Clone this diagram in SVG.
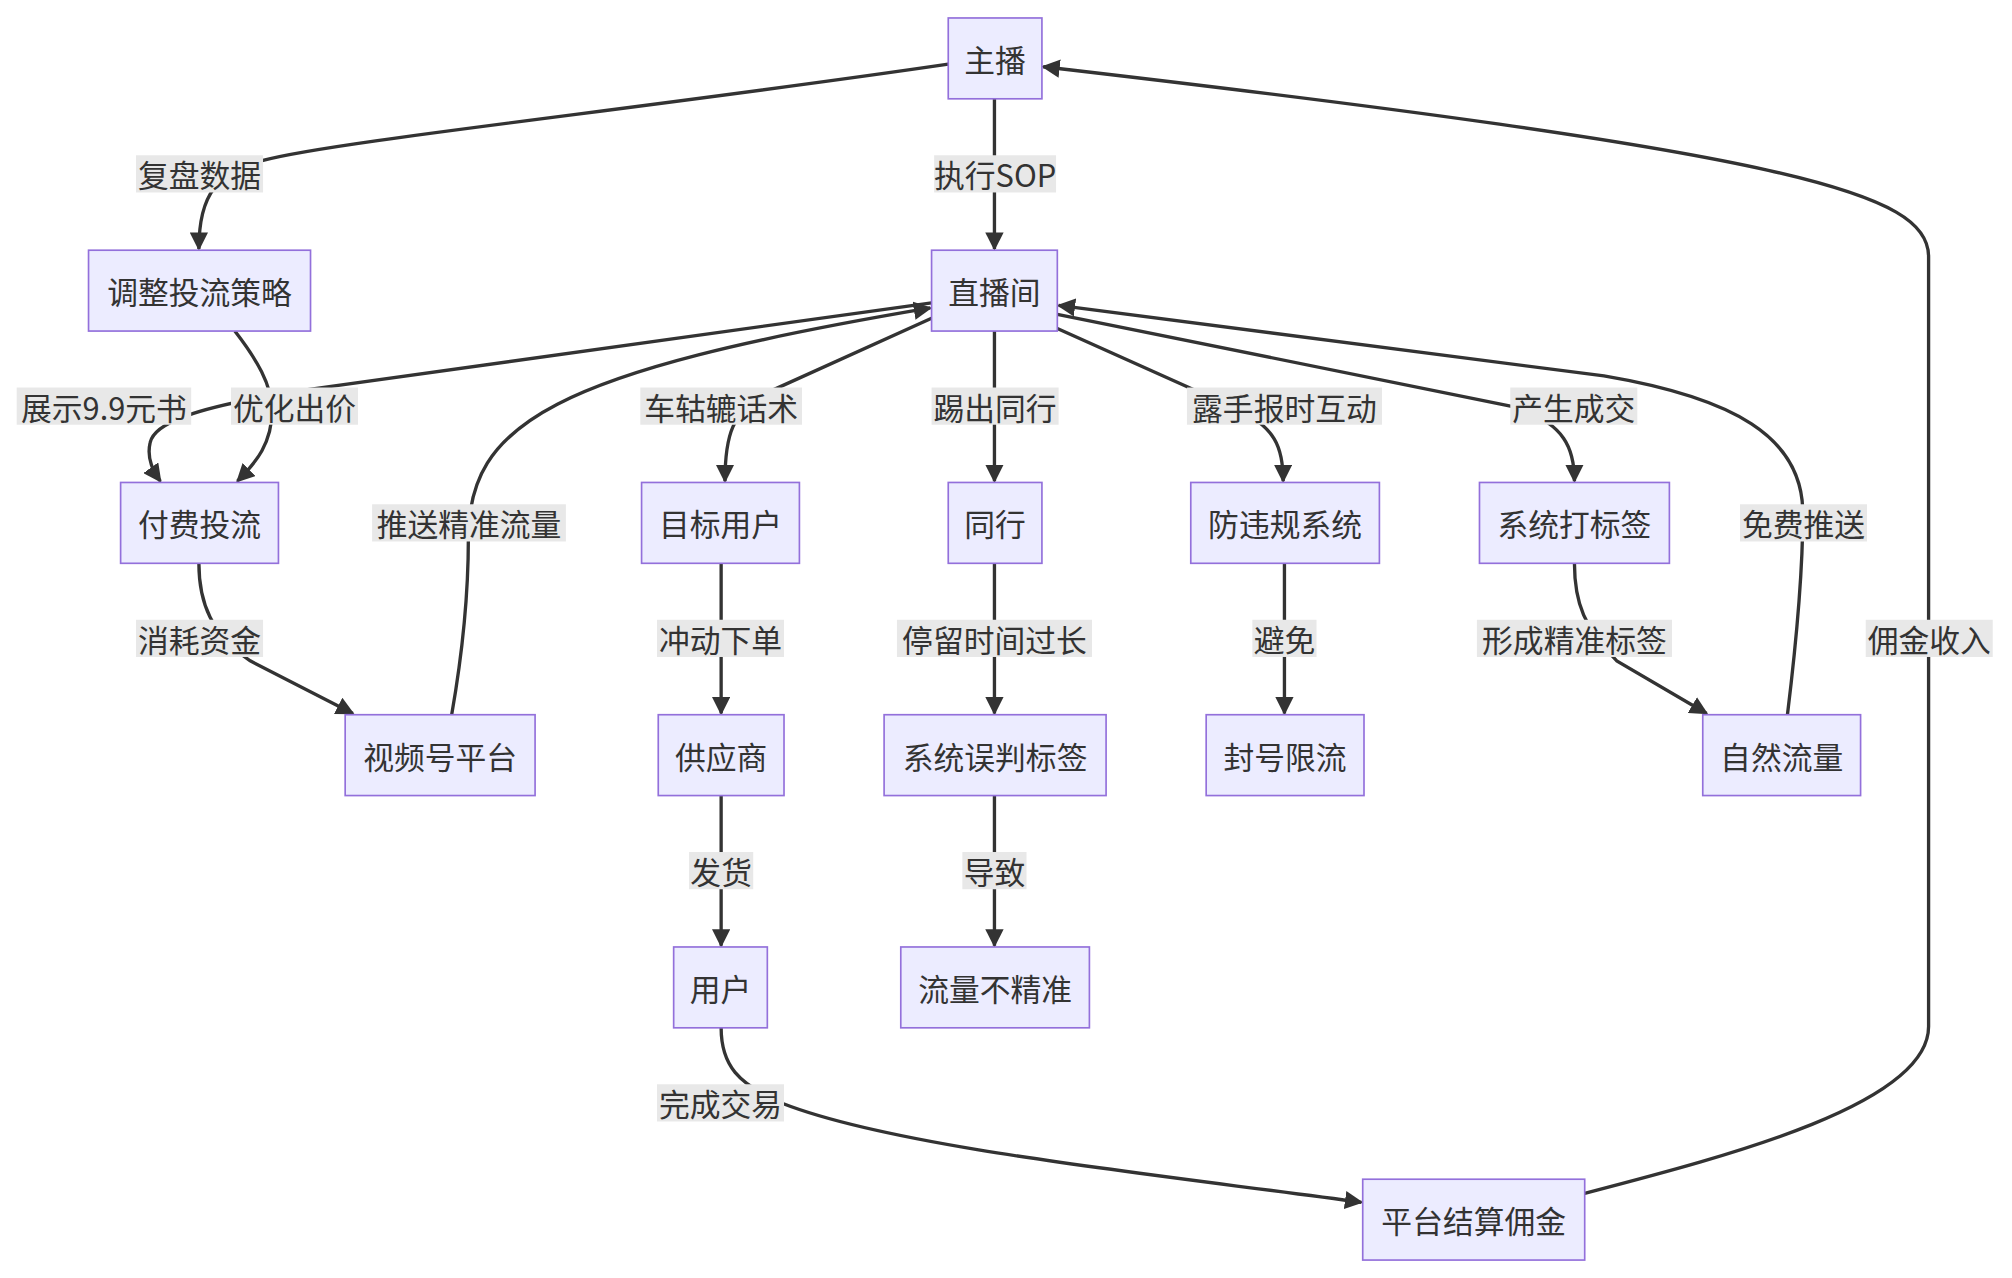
<svg xmlns="http://www.w3.org/2000/svg" width="2012" height="1278" viewBox="0 0 2012 1278">
<style>
.n rect{fill:#ECECFF;stroke:#9370DB;stroke-width:1.3}
text{font-family:"Noto Sans CJK SC","Noto Sans",sans-serif;font-size:24px;fill:#333;text-anchor:middle;dominant-baseline:central}
.e path{fill:none;stroke:#333;stroke-width:2.6}
.l rect{fill:#e8e8e8}
</style>
<defs>
<marker id="a" viewBox="0 0 10 10" refX="9" refY="5" markerWidth="5.5" markerHeight="5.5" orient="auto" markerUnits="strokeWidth"><path d="M0,0 L10,5 L0,10 z" fill="#333"/></marker>
</defs>
<rect width="2012" height="1278" fill="#fff"/>
<g transform="scale(1.28316)">
<g class="e" marker-end="url(#a)">
<path marker-end="url(#a)" d="M739,50 C500,85 260,110 205,125 C170,135 155,150 155,194"/>
<path marker-end="url(#a)" d="M775,77 L775,194"/>
<path marker-end="url(#a)" d="M183,258 C200,280 212,300 212,320 C212,345 200,360 185,375"/>
<path marker-end="url(#a)" d="M726,236 L230,305 C150,318 120,330 117,345 C114,358 120,368 125,375"/>
<path marker-end="url(#a)" d="M155,439 C155,470 165,495 195,515 L275,556"/>
<path marker-end="url(#a)" d="M352,557 C362,500 365,460 365,420 C365,330 430,290 725,240"/>
<path marker-end="url(#a)" d="M726,248 L600,305 C570,320 565,340 565,375"/>
<path marker-end="url(#a)" d="M775,258 L775,375"/>
<path marker-end="url(#a)" d="M824,256 L960,317 C995,332 1000,350 1000,375"/>
<path marker-end="url(#a)" d="M824,245 L1180,317 C1220,330 1227,350 1227,375"/>
<path marker-end="url(#a)" d="M1393,557 C1400,500 1405,450 1405,400 C1405,340 1350,310 1250,293 L825,238"/>
<path marker-end="url(#a)" d="M775,439 L775,556"/>
<path marker-end="url(#a)" d="M1001,439 L1001,556"/>
<path marker-end="url(#a)" d="M1227,439 C1227,470 1235,490 1260,515 L1330,556"/>
<path marker-end="url(#a)" d="M562,439 L562,556"/>
<path marker-end="url(#a)" d="M562,620 L562,737"/>
<path marker-end="url(#a)" d="M775,620 L775,737"/>
<path marker-end="url(#a)" d="M562,801 C562,830 575,845 610,860 C700,895 900,915 1061,937"/>
<path marker-end="url(#a)" d="M1235,930 C1350,900 1503,860 1503,800 L1503,200 C1503,150 1400,120 813,52"/>
</g>
<g class="l">
<rect x="106" y="121" width="99" height="29"/><text x="155.5" y="135.5">复盘数据</text>
<rect x="728" y="121" width="95" height="29"/><text x="775.5" y="135.5">执行SOP</text>
<rect x="180" y="302" width="99" height="29"/><text x="229.5" y="316.5">优化出价</text>
<rect x="13" y="302" width="136" height="29"/><text x="81" y="316.5">展示9.9元书</text>
<rect x="106" y="483" width="99" height="29"/><text x="155.5" y="497.5">消耗资金</text>
<rect x="290" y="393" width="151" height="29"/><text x="365.5" y="407.5">推送精准流量</text>
<rect x="499" y="302" width="126" height="29"/><text x="562" y="316.5">车轱辘话术</text>
<rect x="726" y="302" width="99" height="29"/><text x="775.5" y="316.5">踢出同行</text>
<rect x="925" y="302" width="152" height="29"/><text x="1001" y="316.5">露手报时互动</text>
<rect x="1177" y="302" width="99" height="29"/><text x="1226.5" y="316.5">产生成交</text>
<rect x="1356" y="393" width="99" height="29"/><text x="1405.5" y="407.5">免费推送</text>
<rect x="699" y="483" width="152" height="29"/><text x="775" y="497.5">停留时间过长</text>
<rect x="976" y="483" width="50" height="29"/><text x="1001" y="497.5">避免</text>
<rect x="1151" y="483" width="152" height="29"/><text x="1227" y="497.5">形成精准标签</text>
<rect x="512" y="483" width="99" height="29"/><text x="561.5" y="497.5">冲动下单</text>
<rect x="537" y="664" width="50" height="29"/><text x="562" y="678.5">发货</text>
<rect x="750" y="664" width="50" height="29"/><text x="775" y="678.5">导致</text>
<rect x="512" y="845" width="99" height="29"/><text x="561.5" y="859.5">完成交易</text>
<rect x="1454" y="483" width="99" height="29"/><text x="1503.5" y="497.5">佣金收入</text>
</g>
<g id="zhubo" class="n"><rect x="739" y="14" width="73" height="63"/><text x="775.5" y="45.5">主播</text></g>
<g id="zhibojian" class="n"><rect x="726" y="195" width="98" height="63"/><text x="775" y="226.5">直播间</text></g>
<g id="tiaozheng" class="n"><rect x="69" y="195" width="173" height="63"/><text x="155.5" y="226.5">调整投流策略</text></g>
<g id="fufei" class="n"><rect x="94" y="376" width="123" height="63"/><text x="155.5" y="407.5">付费投流</text></g>
<g id="shipinhao" class="n"><rect x="269" y="557" width="148" height="63"/><text x="343" y="588.5">视频号平台</text></g>
<g id="mubiao" class="n"><rect x="500" y="376" width="123" height="63"/><text x="561.5" y="407.5">目标用户</text></g>
<g id="tonghang" class="n"><rect x="739" y="376" width="73" height="63"/><text x="775.5" y="407.5">同行</text></g>
<g id="fangweigui" class="n"><rect x="928" y="376" width="147" height="63"/><text x="1001.5" y="407.5">防违规系统</text></g>
<g id="dabiaoqian" class="n"><rect x="1153" y="376" width="148" height="63"/><text x="1227" y="407.5">系统打标签</text></g>
<g id="gongying" class="n"><rect x="513" y="557" width="98" height="63"/><text x="562" y="588.5">供应商</text></g>
<g id="wupan" class="n"><rect x="689" y="557" width="173" height="63"/><text x="775.5" y="588.5">系统误判标签</text></g>
<g id="fenghao" class="n"><rect x="940" y="557" width="123" height="63"/><text x="1001.5" y="588.5">封号限流</text></g>
<g id="ziran" class="n"><rect x="1327" y="557" width="123" height="63"/><text x="1388.5" y="588.5">自然流量</text></g>
<g id="yonghu" class="n"><rect x="525" y="738" width="73" height="63"/><text x="561.5" y="769.5">用户</text></g>
<g id="bujingzhun" class="n"><rect x="702" y="738" width="147" height="63"/><text x="775.5" y="769.5">流量不精准</text></g>
<g id="jiesuan" class="n"><rect x="1062" y="919" width="173" height="63"/><text x="1148.5" y="950.5">平台结算佣金</text></g>
</g>
</svg>
